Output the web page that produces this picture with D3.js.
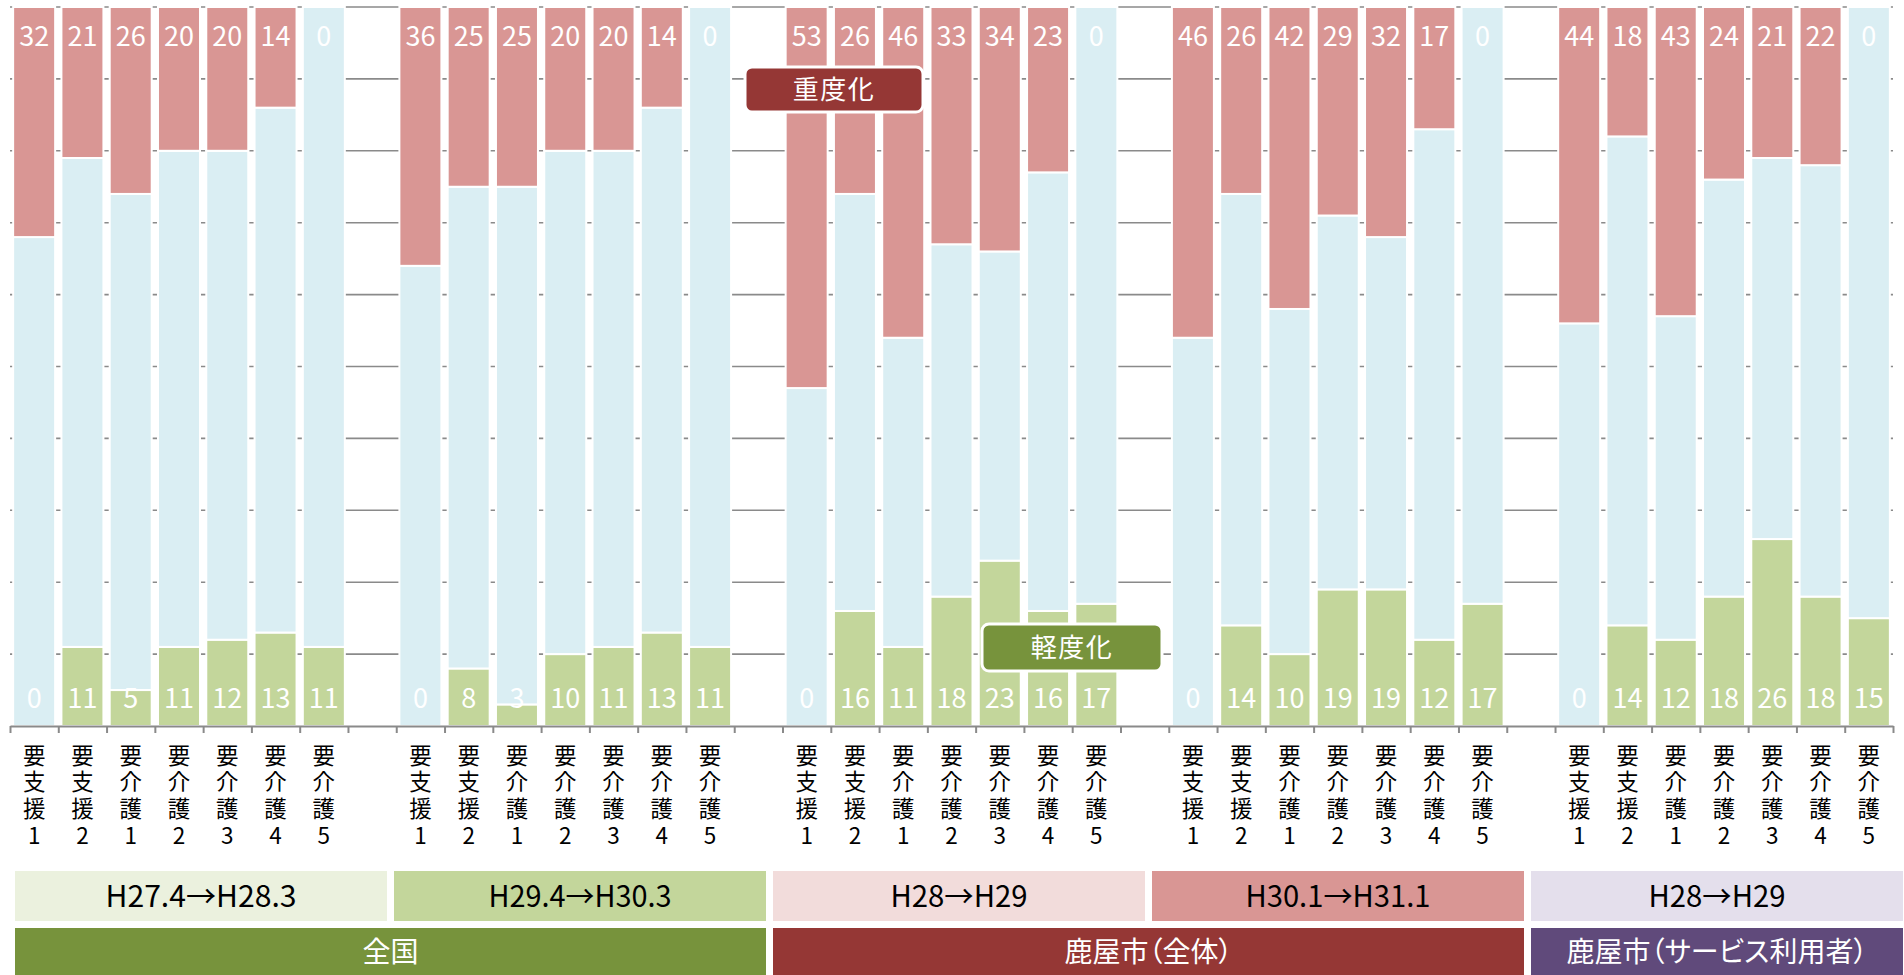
<!DOCTYPE html>
<html lang="ja">
<head>
<meta charset="utf-8">
<script src="https://cdn.jsdelivr.net/npm/d3@7/dist/d3.min.js"></script>
<style>
  html, body { margin: 0; padding: 0; background: #fff; }
  svg { display: block; }
  .vlabel { writing-mode: vertical-rl; text-orientation: upright; }
  .region { font-feature-settings: "palt"; }
</style>
</head>
<body>
<svg id="chart" width="1904" height="975"></svg>
<script>
// Care-level transitions: share of people who got worse (重度化), stayed, or improved (軽度化), in %
const levels = ["要支援1", "要支援2", "要介護1", "要介護2", "要介護3", "要介護4", "要介護5"];
const periods = ["H27.4→H28.3", "H29.4→H30.3", "H28→H29", "H30.1→H31.1", "H28→H29"];
const regions = ["全国", "鹿屋市（全体）", "鹿屋市（サービス利用者）"];
const regionSpan = [2, 2, 1];            // how many periods each region covers

// 重度化 (worsened), one row per period
const worsened = [
  [32, 21, 26, 20, 20, 14, 0],
  [36, 25, 25, 20, 20, 14, 0],
  [53, 26, 46, 33, 34, 23, 0],
  [46, 26, 42, 29, 32, 17, 0],
  [44, 18, 43, 24, 21, 22, 0]
];
// 軽度化 (improved), one row per period
const improved = [
  [0, 11, 5, 11, 12, 13, 11],
  [0, 8, 3, 10, 11, 13, 11],
  [0, 16, 11, 18, 23, 16, 17],
  [0, 14, 10, 19, 19, 12, 17],
  [0, 14, 12, 18, 26, 18, 15]
];
const gridTicks = [10, 20, 30, 40, 50, 60, 70, 80, 90, 100];

const periodFill = ["#EBF1DE", "#C3D69B", "#F2DCDB", "#D99694", "#E4DFEC"];
const regionFill = ["#77933C", "#953735", "#604A7B"];
const segColor = { improved: "#C3D69B", kept: "#DAEEF3", worsened: "#D99694" };

const svg = d3.select("#chart");
const slotsPerGroup = levels.length + 1;
const nSlots = periods.length * slotsPerGroup - 1;

const plotLeft = 10, plotRight = 1893, plotTop = 7, plotBottom = 726;
const x = d3.scaleBand().domain(d3.range(nSlots)).range([plotLeft, plotRight])
  .paddingInner(0.13).paddingOuter(0.065);
const xEdge = d3.scaleLinear().domain([0, nSlots]).range([plotLeft, plotRight]);
const y = d3.scaleLinear().domain([0, 100]).range([plotBottom, plotTop]);

// flat list of bars
const bars = [];
periods.forEach((p, g) => {
  levels.forEach((lv, i) => {
    const w = worsened[g][i], im = improved[g][i];
    bars.push({ slot: g * slotsPerGroup + i, level: lv, worsened: w, improved: im, kept: 100 - w - im });
  });
});

// gridlines
svg.append("g").selectAll("line").data(gridTicks).join("line")
  .attr("x1", plotLeft).attr("x2", plotRight)
  .attr("y1", d => y(d)).attr("y2", d => y(d))
  .attr("stroke", "#8a8a8a").attr("stroke-width", 1.6);

// stacked segments
const stack = d3.stack().keys(["improved", "kept", "worsened"]);
const series = stack(bars);
svg.append("g").selectAll("g").data(series).join("g")
  .attr("fill", s => segColor[s.key])
  .selectAll("rect").data(s => s).join("rect")
  .attr("x", d => x(d.data.slot))
  .attr("width", x.bandwidth())
  .attr("y", d => y(d[1]))
  .attr("height", d => y(d[0]) - y(d[1]))
  .attr("stroke", "#fff").attr("stroke-width", 2);

// x axis with ticks on slot boundaries
const axis = svg.append("g").attr("transform", `translate(0,${plotBottom})`)
  .call(d3.axisBottom(xEdge).tickValues(d3.range(nSlots + 1)).tickFormat("").tickSize(7).tickSizeOuter(0));
axis.select(".domain").attr("stroke", "#8a8a8a").attr("stroke-width", 2);
axis.selectAll(".tick line").attr("stroke", "#8a8a8a").attr("stroke-width", 2);

// value labels: worsened along the top, improved along the bottom
const cjk = "'Noto Sans CJK JP', 'Noto Sans', sans-serif";
svg.append("g").selectAll("text").data(bars).join("text")
  .attr("x", d => x(d.slot) + x.bandwidth() / 2)
  .attr("y", y(100) + 39)
  .attr("text-anchor", "middle").attr("fill", "#fff")
  .attr("font-family", cjk).attr("font-size", 27)
  .text(d => d.worsened);
svg.append("g").selectAll("text").data(bars).join("text")
  .attr("x", d => x(d.slot) + x.bandwidth() / 2)
  .attr("y", y(0) - 18)
  .attr("text-anchor", "middle").attr("fill", "#fff")
  .attr("font-family", cjk).attr("font-size", 27)
  .text(d => d.improved);

// vertical category labels
svg.append("g").selectAll("text").data(bars).join("text")
  .attr("class", "vlabel")
  .attr("font-family", cjk).attr("font-size", 22.5).attr("fill", "#000")
  .attr("letter-spacing", 4.2)
  .attr("x", d => x(d.slot) + x.bandwidth() / 2)
  .attr("y", plotBottom + 18)
  .text(d => d.level);

// callouts
function callout(cx, cy, w, h, fill, label) {
  const g = svg.append("g");
  g.append("rect").attr("x", cx - w / 2).attr("y", cy - h / 2)
    .attr("width", w).attr("height", h).attr("rx", 7)
    .attr("fill", fill).attr("stroke", "#fff").attr("stroke-width", 3);
  g.append("text").attr("x", cx).attr("y", cy).attr("dy", "0.36em")
    .attr("text-anchor", "middle").attr("fill", "#fff")
    .attr("font-family", cjk).attr("font-size", 26).attr("letter-spacing", 1.5)
    .text(label);
}
callout(834, 89.5, 178, 45, "#953735", "重度化");
callout(1072, 647.5, 180, 47, "#77933C", "軽度化");

// header table: periods row and regions row
const tblLeft = 15, pitch = 379, gap = 7;
const rowPeriod = { y: 871, h: 50 }, rowRegion = { y: 928, h: 52 };
const periodWidths = [191, 183, 137, 185, 137];
const pg = svg.append("g");
periods.forEach((p, i) => {
  const x0 = tblLeft + i * pitch;
  pg.append("rect").attr("x", x0).attr("y", rowPeriod.y)
    .attr("width", pitch - gap).attr("height", rowPeriod.h).attr("fill", periodFill[i]);
  pg.append("text").attr("x", x0 + (pitch - gap) / 2).attr("y", rowPeriod.y + rowPeriod.h / 2)
    .attr("dy", "0.36em").attr("text-anchor", "middle").attr("fill", "#000")
    .attr("font-family", cjk).attr("font-size", 30)
    .attr("textLength", periodWidths[i]).attr("lengthAdjust", "spacingAndGlyphs")
    .text(p);
});
let startIdx = 0;
regions.forEach((r, i) => {
  const x0 = tblLeft + startIdx * pitch;
  const w = regionSpan[i] * pitch - gap;
  pg.append("rect").attr("x", x0).attr("y", rowRegion.y)
    .attr("width", w).attr("height", rowRegion.h).attr("fill", regionFill[i]);
  pg.append("text").attr("class", "region")
    .attr("x", x0 + w / 2).attr("y", 952)
    .attr("dy", "0.36em").attr("text-anchor", "middle").attr("fill", "#fff")
    .attr("font-family", cjk).attr("font-size", 28)
    .text(r);
  startIdx += regionSpan[i];
});
</script>
</body>
</html>
